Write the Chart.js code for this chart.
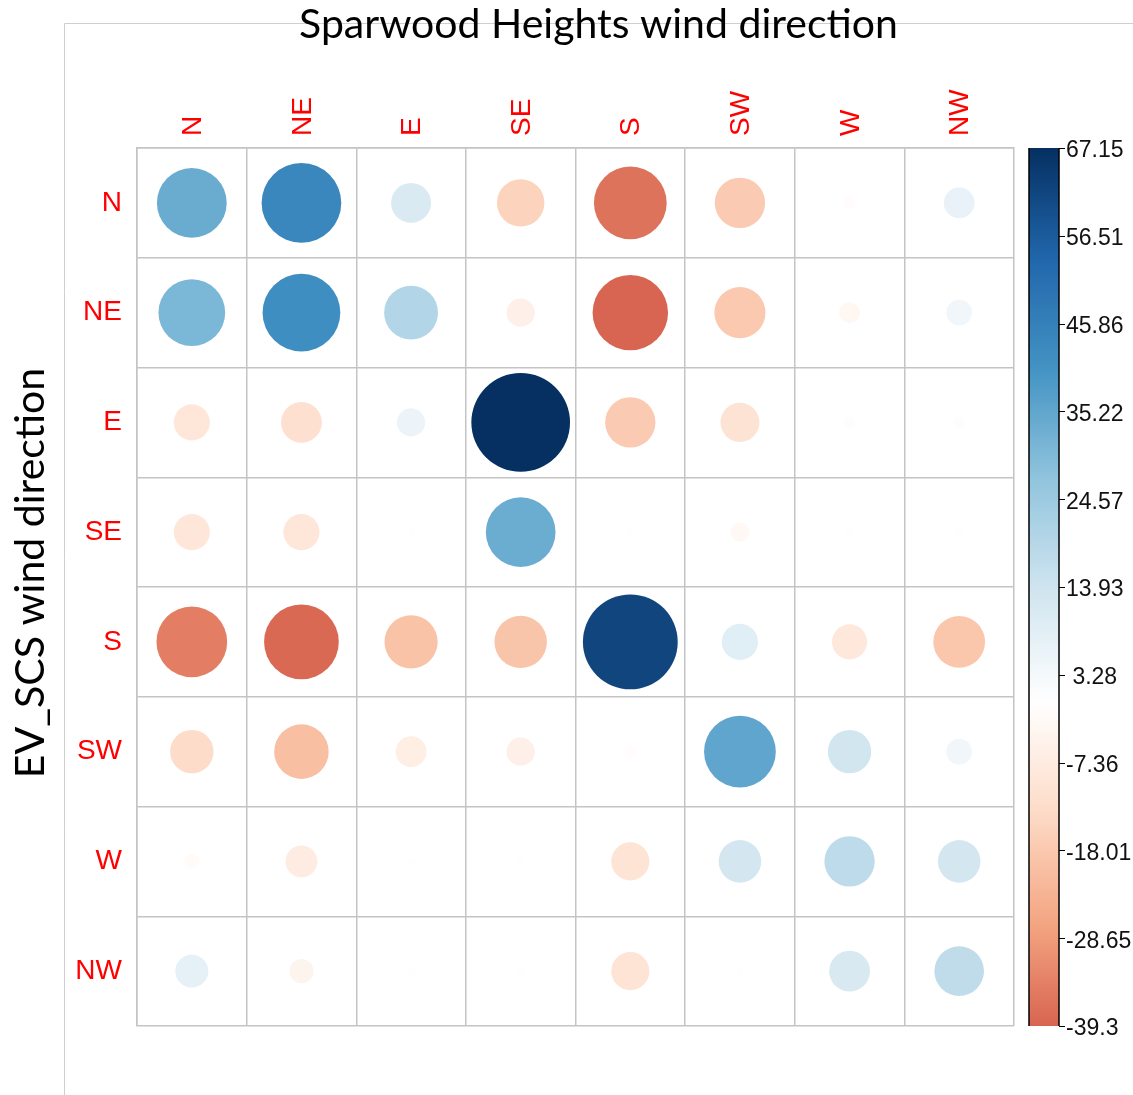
<!DOCTYPE html>
<html>
<head>
<meta charset="utf-8">
<title>Sparwood Heights wind direction</title>
<script src="https://cdn.jsdelivr.net/npm/chart.js@4.4.1/dist/chart.umd.min.js"></script>
<style>
  html, body { margin: 0; padding: 0; background: #ffffff; }
  canvas { display: block; }
</style>
</head>
<body>
<canvas id="chart" width="1133" height="1095"></canvas>
<script>
// Wind direction sectors (columns: Sparwood Heights, rows: EV_SCS)
const colLabels = ['N', 'NE', 'E', 'SE', 'S', 'SW', 'W', 'NW'];
const rowLabels = ['N', 'NE', 'E', 'SE', 'S', 'SW', 'W', 'NW'];

// One array per EV_SCS direction, values in column order N..NW
const rowN  = [33.6, 43.8, 11.0, -15.5, -36.5, -17.5, -1.0, 6.5];
const rowNE = [30.7, 41.7, 20.0, -5.5, -39.3, -18.0, -3.0, 4.5];
const rowE  = [-9.0, -11.5, 5.5, 67.15, -17.5, -10.5, 1.0, 1.0];
const rowSE = [-9.0, -9.0, 0.5, 33.5, 0.3, -2.5, 0.5, -0.5];
const rowS  = [-34.5, -38.5, -19.5, -19.0, 62.0, 9.0, -8.5, -18.5];
const rowSW = [-13.0, -20.5, -6.5, -5.5, -1.0, 35.5, 13.0, 4.5];
const rowW  = [-1.5, -7.0, 0.3, 0.3, -10.0, 12.5, 17.5, 12.5];
const rowNW = [7.5, -4.0, 0.3, -0.5, -10.0, 0.3, 11.5, 17.0];

// Colour legend ticks
const colorbarTicks = [-39.3, -28.65, -18.01, -7.36, 3.28, 13.93, 24.57, 35.22, 45.86, 56.51, 67.15];
const valueMin = -39.3;
const valueMax = 67.15;

const matrixRows = [rowN, rowNE, rowE, rowSE, rowS, rowSW, rowW, rowNW];
const absMax = Math.max(Math.abs(valueMin), Math.abs(valueMax));

// Red-white-blue diverging palette, symmetric around zero
const palette = ['#67001F', '#B2182B', '#D6604D', '#F4A582', '#FDDBC7', '#FFFFFF',
                 '#D1E5F0', '#92C5DE', '#4393C3', '#2166AC', '#053061'];

function hexToRgb(h) {
  const n = parseInt(h.slice(1), 16);
  return [(n >> 16) & 255, (n >> 8) & 255, n & 255];
}
const paletteRgb = palette.map(hexToRgb);

function colorFor(v) {
  const t = Math.max(0, Math.min(1, (v / absMax + 1) / 2)) * (paletteRgb.length - 1);
  const i = Math.min(Math.floor(t), paletteRgb.length - 2);
  const f = t - i;
  const a = paletteRgb[i], b = paletteRgb[i + 1];
  const c = a.map((x, k) => Math.round(x + (b[k] - x) * f));
  return `rgb(${c[0]},${c[1]},${c[2]})`;
}

const points = [];
matrixRows.forEach((row, r) => {
  row.forEach((v, c) => points.push({ x: colLabels[c], y: rowLabels[r], v: v }));
});

const gridColor = '#c4c4c4';
const labelFont = { family: '"Liberation Sans", Arial, sans-serif', size: 28 };
const titleFamily = 'Lato, "Open Sans", sans-serif';

// Circle radius: area proportional to |value|, largest fills 90% of a cell
function circleRadius(ctx) {
  const xs = ctx.chart.scales.x;
  if (!xs || !xs.width || !ctx.raw) return 0;
  const cell = xs.width / colLabels.length;
  return 0.45 * cell * Math.sqrt(Math.abs(ctx.raw.v) / absMax);
}

// Thin panel frame, main heading and the row-axis heading
const framePlugin = {
  id: 'frame',
  beforeDraw(chart) {
    const ctx = chart.ctx;
    ctx.save();
    ctx.strokeStyle = '#cfcfcf';
    ctx.lineWidth = 1;
    ctx.beginPath();
    ctx.moveTo(64.5, chart.height);
    ctx.lineTo(64.5, 23.5);
    ctx.lineTo(chart.width, 23.5);
    ctx.stroke();
    ctx.restore();
  },
  afterDraw(chart) {
    const ctx = chart.ctx;
    const area = chart.chartArea;
    ctx.save();
    ctx.fillStyle = '#000000';
    ctx.font = `41px ${titleFamily}`;
    ctx.textAlign = 'center';
    ctx.textBaseline = 'middle';
    ctx.fillText('Sparwood Heights wind direction', (64 + chart.width) / 2, 25);
    ctx.translate(31, (area.top + area.bottom) / 2 - 14);
    ctx.rotate(-Math.PI / 2);
    ctx.fillText('EV_SCS wind direction', 0, 0);
    ctx.restore();
  }
};

// Gradient colour bar drawn along the legend scale
const colorbarPlugin = {
  id: 'colorbar',
  afterDraw(chart) {
    const s = chart.scales.cb;
    const ctx = chart.ctx;
    const x0 = s.left + 15;
    const w = 30;
    const yTop = s.getPixelForValue(valueMax);
    const yBot = s.getPixelForValue(valueMin);
    const g = ctx.createLinearGradient(0, yBot, 0, yTop);
    const steps = 60;
    for (let k = 0; k <= steps; k++) {
      const v = valueMin + (valueMax - valueMin) * k / steps;
      g.addColorStop(k / steps, colorFor(v));
    }
    ctx.save();
    ctx.fillStyle = g;
    ctx.fillRect(x0, yTop, w, yBot - yTop);
    ctx.strokeStyle = '#000000';
    ctx.lineWidth = 1.5;
    ctx.beginPath();
    ctx.moveTo(x0, yTop); ctx.lineTo(x0, yBot);
    ctx.moveTo(x0 + w, yTop); ctx.lineTo(x0 + w, yBot);
    ctx.stroke();
    ctx.lineWidth = 1;
    ctx.beginPath();
    colorbarTicks.forEach(v => {
      const y = Math.round(s.getPixelForValue(v)) + 0.5;
      ctx.moveTo(x0 + w, y);
      ctx.lineTo(x0 + w + 6, y);
    });
    ctx.stroke();
    ctx.restore();
  }
};

new Chart(document.getElementById('chart'), {
  type: 'scatter',
  data: {
    datasets: [{
      xAxisID: 'x',
      yAxisID: 'y',
      data: points,
      showLine: false,
      pointBorderWidth: 0,
      pointBackgroundColor: ctx => colorFor(ctx.raw ? ctx.raw.v : 0),
      pointRadius: circleRadius,
      pointHoverRadius: circleRadius
    }]
  },
  options: {
    responsive: false,
    animation: false,
    events: [],
    layout: { padding: { left: 0, right: 0, top: 0, bottom: 69 } },
    plugins: {
      legend: { display: false },
      tooltip: { enabled: false },
      title: { display: false }
    },
    scales: {
      x: {
        type: 'category',
        labels: colLabels,
        position: 'top',
        offset: true,
        grid: { offset: true, color: gridColor, lineWidth: 1.5, drawTicks: false },
        border: { color: gridColor, width: 1.5 },
        ticks: {
          color: '#ff0000', font: labelFont, minRotation: 90, maxRotation: 90,
          padding: 12, autoSkip: false, labelOffset: 35
        },
        afterFit: s => { s.height = 148; }
      },
      y: {
        type: 'category',
        labels: rowLabels,
        position: 'left',
        offset: true,
        grid: { offset: true, color: gridColor, lineWidth: 1.5, drawTicks: false },
        border: { color: gridColor, width: 1.5 },
        ticks: { color: '#ff0000', font: labelFont, padding: 15, autoSkip: false },
        afterFit: s => { s.width = 137; }
      },
      cb: {
        type: 'linear',
        position: 'right',
        min: valueMin,
        max: valueMax,
        bounds: 'data',
        grid: { display: false, drawTicks: false, drawOnChartArea: false },
        border: { display: false },
        afterBuildTicks: s => { s.ticks = colorbarTicks.map(v => ({ value: v })); },
        ticks: {
          autoSkip: false,
          color: '#111111',
          font: { family: '"Liberation Sans", Arial, sans-serif', size: 23 },
          padding: 52,
          labelOffset: 3,
          callback: v => String(v).padStart(5, ' ')
        },
        afterFit: s => { s.width = 119; }
      }
    }
  },
  plugins: [framePlugin, colorbarPlugin]
});
</script>
</body>
</html>
